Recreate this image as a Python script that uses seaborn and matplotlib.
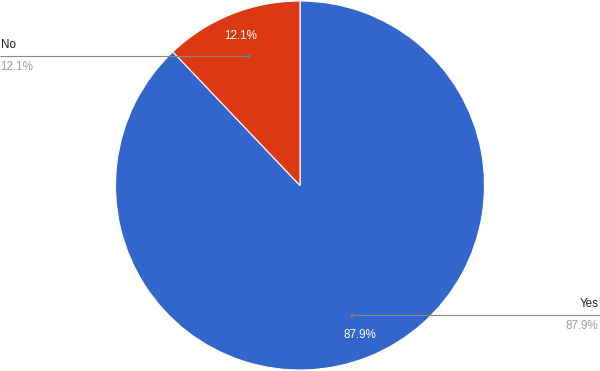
import numpy as np
import matplotlib
matplotlib.use("Agg")
import matplotlib.pyplot as plt
import seaborn as sns

sns.set_theme(style="white")
plt.rcParams['font.family'] = ['Liberation Sans', 'DejaVu Sans']

labels = ["Yes", "No"]
values = [87.9, 12.1]
colors = ["#3366cc", "#dc3912"]

W, H = 600, 371
fig = plt.figure(figsize=(W / 100, H / 100), dpi=100)
ax = fig.add_axes([0, 0, 1, 1])

cx, cy, r = 300, 185.5, 184.5
wedges, _ = ax.pie(values, colors=colors, startangle=90, counterclock=False,
                   center=(cx, cy), radius=r, frame=True,
                   wedgeprops=dict(edgecolor="white", linewidth=0.8))
ax.set_xlim(0, W)
ax.set_ylim(0, H)
ax.set_aspect("equal")
ax.axis("off")

total = sum(values)
for w, lab, v in zip(wedges, labels, values):
    mid = np.deg2rad((w.theta1 + w.theta2) / 2)
    pct = f"{v / total * 100:.1f}%"
    # inside label
    tx, ty = cx + 0.87 * r * np.cos(mid), cy + 0.87 * r * np.sin(mid)
    ax.text(tx, ty, pct, color="white", fontsize=8.4, ha="center", va="center")
    # leader line
    dx, dy = cx + 0.755 * r * np.cos(mid), cy + 0.755 * r * np.sin(mid)
    if np.cos(mid) < 0:
        ex, ha, lx = 0, "left", 0.5
    else:
        ex, ha, lx = W, "right", W - 1.5
    ax.plot([dx, ex], [dy, dy], color="#888888", lw=0.8, solid_capstyle="butt")
    ax.plot([dx], [dy], "o", color="#777777", ms=2)
    ax.text(lx, dy + 11, lab, color="#222222", fontsize=8.4, ha=ha, va="center")
    ax.text(lx, dy - 11, pct, color="#9e9e9e", fontsize=8.4, ha=ha, va="center")

fig.savefig("out.png", dpi=100)
